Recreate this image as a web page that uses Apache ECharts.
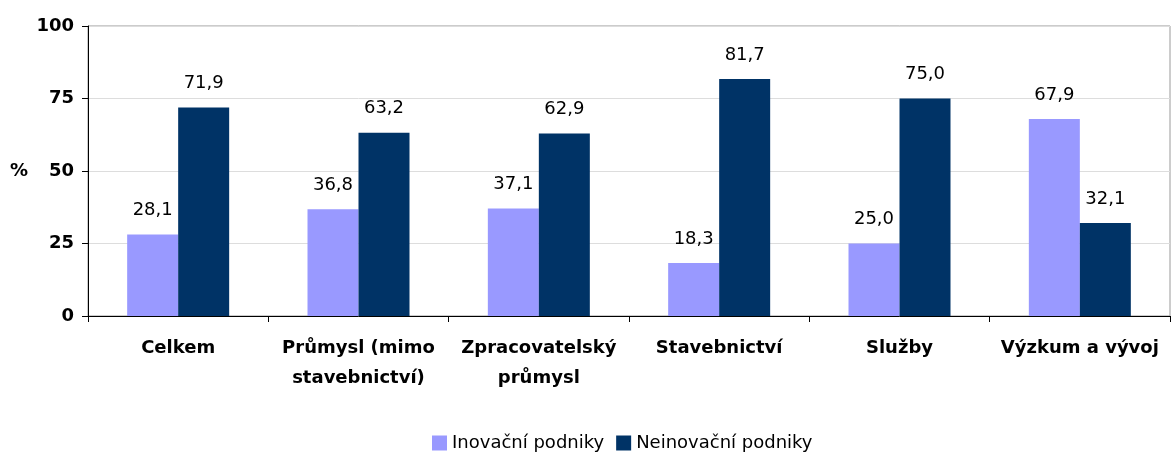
<!DOCTYPE html>
<html><head><meta charset="utf-8">
<script src="https://cdn.jsdelivr.net/npm/echarts@6/dist/echarts.min.js"></script>
<style>html,body{margin:0;padding:0;background:#fff}#c{width:1172px;height:453px}</style>
</head><body><div id="c"></div>
<script>
const categories = ['Celkem', 'Průmysl (mimo\nstavebnictví)', 'Zpracovatelský\nprůmysl', 'Stavebnictví', 'Služby', 'Výzkum a vývoj'];
const seriesNames = ['Inovační podniky', 'Neinovační podniky'];
const inovacni = [28.1, 36.8, 37.1, 18.3, 25.0, 67.9];
const neinovacni = [71.9, 63.2, 62.9, 81.7, 75.0, 32.1];
const yTicks = [0, 25, 50, 75, 100];

const font = 'DejaVu Sans, Liberation Sans, Arial, sans-serif';
const chart = echarts.init(document.getElementById('c'));
const lbl = {show: true, position: 'top', distance: 15, color: '#000', fontFamily: font, fontSize: 18,
  formatter: p => p.value.toFixed(1).replace('.', ',')};
chart.setOption({
  animation: false,
  grid: {left: 88, right: 2, top: 26, bottom: 137, show: true, borderColor: '#999', borderWidth: 1},
  legend: {top: 434, left: 432, padding: 0, itemWidth: 15, itemHeight: 15, itemGap: 12,
    textStyle: {fontFamily: font, fontSize: 18, color: '#000'},
    data: seriesNames.map(n => ({name: n, icon: 'rect'}))},
  xAxis: {type: 'category', data: categories,
    axisLine: {lineStyle: {color: '#000', width: 1}},
    axisTick: {show: true, length: 6, lineStyle: {color: '#000'}},
    axisLabel: {interval: 0, margin: 17, color: '#000', fontFamily: font, fontSize: 18, fontWeight: 'bold', lineHeight: 30}},
  yAxis: {type: 'value', min: yTicks[0], max: yTicks[yTicks.length - 1], interval: 25,
    name: '%', nameLocation: 'middle', nameRotate: 0, nameGap: 60,
    nameTextStyle: {fontFamily: font, fontSize: 18, fontWeight: 'bold', color: '#000'},
    axisLine: {show: true, lineStyle: {color: '#000'}},
    axisTick: {show: true, length: 6, lineStyle: {color: '#000'}},
    axisLabel: {margin: 14, color: '#000', fontFamily: font, fontSize: 18, fontWeight: 'bold'},
    splitLine: {lineStyle: {color: '#ddd'}}},
  series: [
    {name: seriesNames[0], type: 'bar', data: inovacni, barWidth: 51, barGap: '0%', itemStyle: {color: '#9999FF'}, label: lbl},
    {name: seriesNames[1], type: 'bar', data: neinovacni, barWidth: 51, barGap: '0%', itemStyle: {color: '#003366'}, label: lbl}
  ]
});
</script></body></html>
